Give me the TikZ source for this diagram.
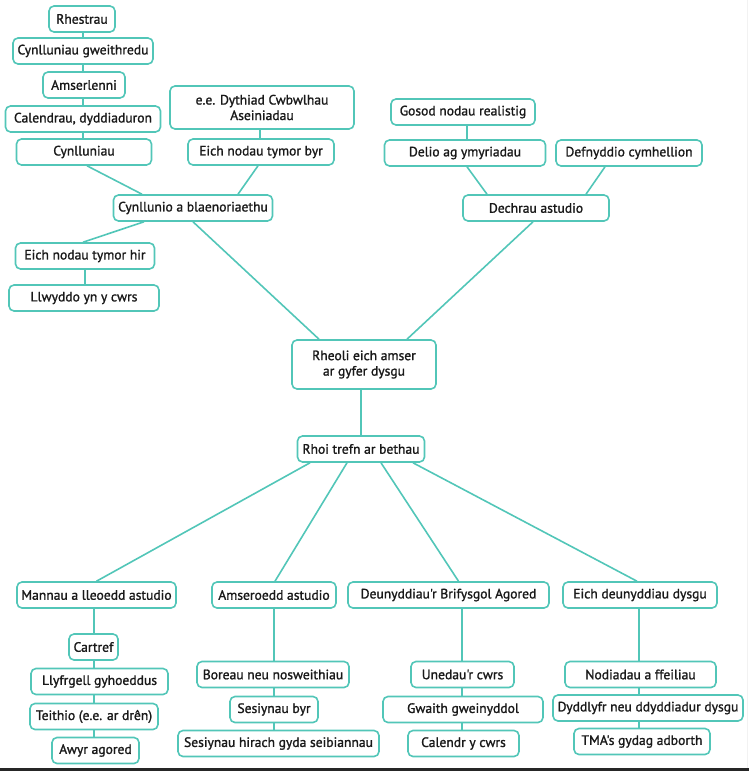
\documentclass[tikz,border=0pt]{standalone}
\usepackage{fontspec}
\setmainfont{PT Sans}
\newfontface\medface{PT Sans}[FakeBold=1.3]
\usetikzlibrary{calc}
\definecolor{teal1}{RGB}{82,198,184}
\definecolor{ink}{RGB}{25,25,25}
\begin{document}
\begin{tikzpicture}[x=1pt,y=-1pt,
  box/.style={draw=teal1, line width=1.6pt, rounded corners=5pt, fill=white,
    minimum height=26pt, inner sep=1pt, text=ink, align=center,
    font=\medface\fontsize{13.6}{15.5}\selectfont},
  link/.style={draw=teal1, line width=1.6pt}]
\useasboundingbox (0,0) rectangle (749,771);
\fill[black!85] (0,768) rectangle (749,771);
\draw[black!5, line width=0.8pt] (747.5,0) -- (747.5,768);
% top-left
\node[box, minimum width=66pt]  (rhes) at (82,19)  {Rhestrau};
\node[box, minimum width=140pt] (cgw)  at (83,51)  {Cynlluniau gweithredu};
\node[box, minimum width=82pt]  (amsl) at (84,85)  {Amserlenni};
\node[box, minimum width=155pt] (cal)  at (83,119) {Calendrau, dyddiaduron};
\node[box, minimum width=135pt] (cyn)  at (84,152) {Cynlluniau};
\node[box, minimum width=184pt, minimum height=43pt] (ee) at (262,107.5) {e.e. Dythiad Cwbwlhau\\Aseiniadau};
\node[box, minimum width=146pt] (byr)  at (261,152) {Eich nodau tymor byr};
\node[box, minimum width=159pt] (cab)  at (193,208) {Cynllunio a blaenoriaethu};
\node[box, minimum width=139pt] (hir)  at (85,256)  {Eich nodau tymor hir};
\node[box, minimum width=150pt] (llw)  at (84,298)  {Llwyddo yn y cwrs};
% top-right
\node[box, minimum width=144pt] (gos)  at (463,112) {Gosod nodau realistig};
\node[box, minimum width=161pt] (del)  at (465,153) {Delio ag ymyriadau};
\node[box, minimum width=146pt] (defn) at (629,153) {Defnyddio cymhellion};
\node[box, minimum width=146pt] (dech) at (536,208) {Dechrau astudio};
% centre
\node[box, minimum width=144pt, minimum height=49pt] (rheo) at (364,364.5) {Rheoli eich amser\\ar gyfer dysgu};
\node[box, minimum width=127pt] (rhoi) at (361,449) {Rhoi trefn ar bethau};
% categories
\node[box, minimum width=159pt] (mann) at (96.5,595) {Mannau a lleoedd astudio};
\node[box, minimum width=124pt] (amse) at (274,595)  {Amseroedd astudio};
\node[box, minimum width=201pt] (deun) at (448.5,595) {Deunyddiau'r Brifysgol Agored};
\node[box, minimum width=154pt] (eich) at (640,595)  {Eich deunyddiau dysgu};
% column 1
\node[box, minimum width=49pt]  (cart) at (93.5,647)  {Cartref};
\node[box, minimum width=137pt] (llyf) at (99.5,681.5) {Llyfrgell gyhoeddus};
\node[box, minimum width=128pt] (teit) at (94,716.5)  {Teithio (e.e. ar drên)};
\node[box, minimum width=87pt]  (awyr) at (95.5,750.5) {Awyr agored};
% column 2
\node[box, minimum width=152pt] (bore) at (273,674.5)  {Boreau neu nosweithiau};
\node[box, minimum width=88pt]  (sbyr) at (274,709.5)  {Sesiynau byr};
\node[box, minimum width=201pt] (shir) at (278.5,743.5) {Sesiynau hirach gyda seibiannau};
% column 3
\node[box, minimum width=103pt] (uned) at (462.5,674.5) {Unedau'r cwrs};
\node[box, minimum width=160pt] (gwai) at (463,709.5)   {Gwaith gweinyddol};
\node[box, minimum width=111pt] (calr) at (463.5,743.5) {Calendr y cwrs};
% column 4
\node[box, minimum width=151pt] (nodi) at (640.5,674.5) {Nodiadau a ffeiliau};
\node[box, minimum width=190pt] (dydd) at (648,708)     {Dyddlyfr neu ddyddiadur dysgu};
\node[box, minimum width=136pt] (tma)  at (642,741.5)   {TMA's gydag adborth};
% x positions for vertical links
\coordinate (xa) at (83,0);
\coordinate (xb) at (260,0);
\coordinate (xc) at (85,0);
\coordinate (xd) at (467,0);
\coordinate (xe) at (361,0);
\coordinate (xf) at (94,0);
\coordinate (xg) at (274,0);
\coordinate (xh) at (462,0);
\coordinate (xi) at (639,0);
% vertical links
\draw[link] (rhes.south -| xa) -- (cgw.north -| xa);
\draw[link] (cgw.south -| xa) -- (amsl.north -| xa);
\draw[link] (amsl.south -| xa) -- (cal.north -| xa);
\draw[link] (cal.south -| xa) -- (cyn.north -| xa);
\draw[link] (ee.south -| xb) -- (byr.north -| xb);
\draw[link] (hir.south -| xc) -- (llw.north -| xc);
\draw[link] (gos.south -| xd) -- (del.north -| xd);
\draw[link] (rheo.south -| xe) -- (rhoi.north -| xe);
\draw[link] (mann.south -| xf) -- (cart.north -| xf);
\draw[link] (cart.south -| xf) -- (llyf.north -| xf);
\draw[link] (llyf.south -| xf) -- (teit.north -| xf);
\draw[link] (teit.south -| xf) -- (awyr.north -| xf);
\draw[link] (amse.south -| xg) -- (bore.north -| xg);
\draw[link] (bore.south -| xg) -- (sbyr.north -| xg);
\draw[link] (sbyr.south -| xg) -- (shir.north -| xg);
\draw[link] (deun.south -| xh) -- (uned.north -| xh);
\draw[link] (uned.south -| xh) -- (gwai.north -| xh);
\draw[link] (gwai.south -| xh) -- (calr.north -| xh);
\draw[link] (eich.south -| xi) -- (nodi.north -| xi);
\draw[link] (nodi.south -| xi) -- (dydd.north -| xi);
\draw[link] (dydd.south -| xi) -- (tma.north -| xi);
% diagonal links
\draw[link] ($(cyn.south)+(3,0)$) -- ($(cab.north)+(-51,0)$);
\draw[link] ($(byr.south)+(-3,0)$) -- ($(cab.north)+(45,0)$);
\draw[link] ($(cab.south)+(-49,0)$) -- ($(hir.north)+(-2,0)$);
\draw[link] (cab.south) -- ($(rheo.north)+(-45,0)$);
\draw[link] ($(del.south)+(2,0)$) -- ($(dech.north)+(-49,0)$);
\draw[link] ($(defn.south)+(-24,0)$) -- ($(dech.north)+(50,0)$);
\draw[link] ($(dech.south)+(-3,0)$) -- ($(rheo.north)+(43,0)$);
\draw[link] ($(rhoi.south)+(-51,0)$) -- (mann.north);
\draw[link] ($(rhoi.south)+(-14,0)$) -- ($(amse.north)+(1,0)$);
\draw[link] ($(rhoi.south)+(20,0)$) -- ($(deun.north)+(10,0)$);
\draw[link] ($(rhoi.south)+(52,0)$) -- ($(eich.north)+(-3,0)$);
\end{tikzpicture}
\end{document}
